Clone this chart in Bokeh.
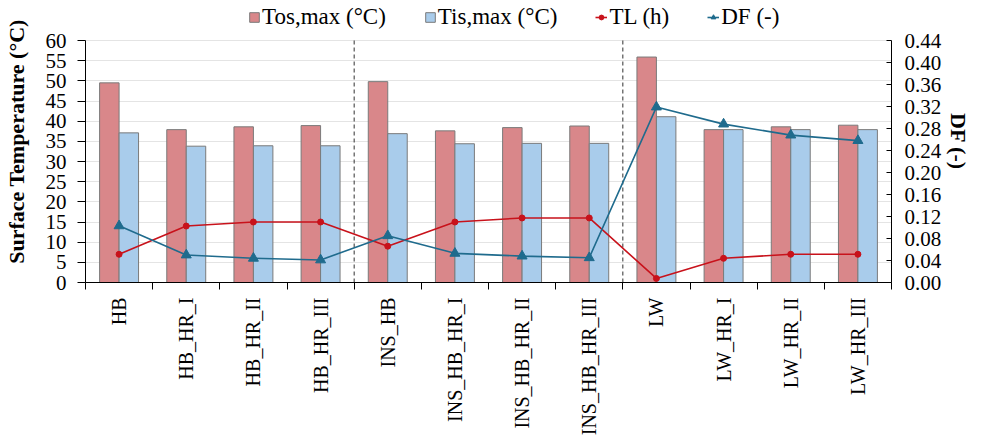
from bokeh.plotting import figure
from bokeh.models import (Range1d, LinearAxis, FixedTicker, PrintfTickFormatter,
                          Legend, LegendItem, ColumnDataSource)
from bokeh.transform import dodge
from bokeh.embed import file_html
from bokeh.resources import INLINE
import math

categories = ["HB", "HB_HR_I", "HB_HR_II", "HB_HR_III",
              "INS_HB", "INS_HB_HR_I", "INS_HB_HR_II", "INS_HB_HR_III",
              "LW", "LW_HR_I", "LW_HR_II", "LW_HR_III"]
tos_max = [49.5, 37.9, 38.6, 38.9, 49.8, 37.6, 38.4, 38.8, 55.9, 37.9, 38.6, 39.0]
tis_max = [37.1, 33.8, 33.9, 33.9, 36.9, 34.4, 34.5, 34.5, 41.1, 37.9, 37.9, 37.9]
tl_h = [7, 14, 15, 15, 9, 15, 16, 16, 1, 6, 7, 7]
df = [0.103, 0.050, 0.044, 0.041, 0.085, 0.053, 0.048, 0.045, 0.319, 0.288, 0.268, 0.258]
left_ticks = list(range(0, 61, 5))
right_ticks = [round(0.04 * k, 2) for k in range(12)]
group_breaks = [4, 8]
left_max = 60
right_max = 0.44

FONT = "Liberation Serif"
n = len(categories)
centers = [i + 0.5 for i in range(n)]
bw = 0.29

# headroom above the data area holds the legend (frame spans the full top)
PLOT_H = 242
FRAME_H = 282
head = FRAME_H / PLOT_H

src = ColumnDataSource(dict(x=centers, tos=tos_max, tis=tis_max, tl=tl_h, df=df))
brk = ColumnDataSource(dict(x=group_breaks, y0=[0] * len(group_breaks),
                            y1=[left_max] * len(group_breaks)))

p = figure(frame_width=806, frame_height=FRAME_H, output_backend="svg", toolbar_location=None,
           x_range=Range1d(0, n), y_range=Range1d(0, left_max * head),
           min_border_left=79, min_border_right=0, min_border_top=0, min_border_bottom=0,
           y_axis_label="Surface Temperature (°C)")
p.extra_y_ranges = {"df": Range1d(0, right_max * head)}
p.outline_line_color = None
p.background_fill_color = "white"
p.xgrid.visible = False
p.ygrid.ticker = FixedTicker(ticks=left_ticks)
p.ygrid.grid_line_color = "#E4E4E4"
p.ygrid.grid_line_width = 1

r_tos = p.vbar(x=dodge("x", -bw / 2), top="tos", width=bw, source=src, fill_color="#D9878A",
               line_color="#7A7A7A", line_width=1)
r_tis = p.vbar(x=dodge("x", bw / 2), top="tis", width=bw, source=src, fill_color="#A9CCEB",
               line_color="#7A7A7A", line_width=1)

p.segment(x0="x", y0="y0", x1="x", y1="y1", source=brk, line_color="#303030",
          line_dash="4 3", line_width=1)

tl_line = p.line("x", "tl", source=src, line_color="#C8121B", line_width=1.6)
tl_pts = p.scatter("x", "tl", source=src, marker="circle", size=6,
                   fill_color="#C8121B", line_color="#C8121B")
df_line = p.line("x", "df", source=src, line_color="#1F6B8D", line_width=1.6, y_range_name="df")
df_pts = p.scatter("x", "df", source=src, marker="triangle", size=10,
                   fill_color="#1F6B8D", line_color="#1F6B8D", y_range_name="df")

# x axis
xa = p.xaxis[0]
xa.ticker = FixedTicker(ticks=centers, minor_ticks=list(range(n + 1)))
xa.major_label_overrides = {c: name for c, name in zip(centers, categories)}
xa.major_label_orientation = math.pi / 2
xa.major_tick_out = 0
xa.major_tick_in = 0
xa.minor_tick_out = 7
xa.minor_tick_in = 0
xa.minor_tick_line_color = "black"
xa.axis_line_color = "black"
xa.major_label_standoff = 8
xa.major_label_text_font = FONT
xa.major_label_text_font_size = "20px"
xa.major_label_text_color = "black"

# left axis
ya = p.yaxis[0]
ya.ticker = FixedTicker(ticks=left_ticks)
ya.bounds = (0, left_max)
ya.major_tick_out = 8
ya.major_tick_in = 0
ya.minor_tick_out = 0
ya.minor_tick_in = 0
ya.axis_line_color = "black"
ya.major_tick_line_color = "black"
ya.major_label_standoff = 11
ya.major_label_text_font = FONT
ya.major_label_text_font_size = "21px"
ya.major_label_text_color = "black"
ya.axis_label_text_font = FONT
ya.axis_label_text_font_size = "22px"
ya.axis_label_text_font_style = "bold"
ya.axis_label_text_color = "black"
ya.axis_label_standoff = 14

# right axis
ra = LinearAxis(y_range_name="df", axis_label="DF (-)")
ra.ticker = FixedTicker(ticks=right_ticks)
ra.bounds = (0, right_max)
ra.formatter = PrintfTickFormatter(format="%.2f")
ra.major_tick_out = 0
ra.major_tick_in = 5
ra.minor_tick_out = 0
ra.minor_tick_in = 0
ra.axis_line_color = "black"
ra.major_tick_line_color = "black"
ra.major_label_standoff = 13
ra.major_label_text_font = FONT
ra.major_label_text_font_size = "21px"
ra.major_label_text_color = "black"
ra.axis_label_text_font = FONT
ra.axis_label_text_font_size = "22px"
ra.axis_label_text_font_style = "bold"
ra.axis_label_text_color = "black"
ra.axis_label_standoff = 2
p.add_layout(ra, "right")

legend = Legend(items=[
    LegendItem(label="Tos,max (°C)", renderers=[r_tos]),
    LegendItem(label="Tis,max (°C)", renderers=[r_tis]),
    LegendItem(label="TL (h)", renderers=[tl_line, tl_pts]),
    LegendItem(label="DF (-)", renderers=[df_line, df_pts]),
], orientation="horizontal", location=(163, 252))
legend.label_text_font = FONT
legend.label_text_font_size = "23px"
legend.label_text_color = "black"
legend.glyph_width = 12
legend.glyph_height = 12
legend.label_standoff = 2
legend.spacing = 38
legend.padding = 0
legend.margin = 0
legend.border_line_color = None
legend.background_fill_alpha = 0
p.add_layout(legend, "center")

open("out.html", "w").write(file_html(p, INLINE))
